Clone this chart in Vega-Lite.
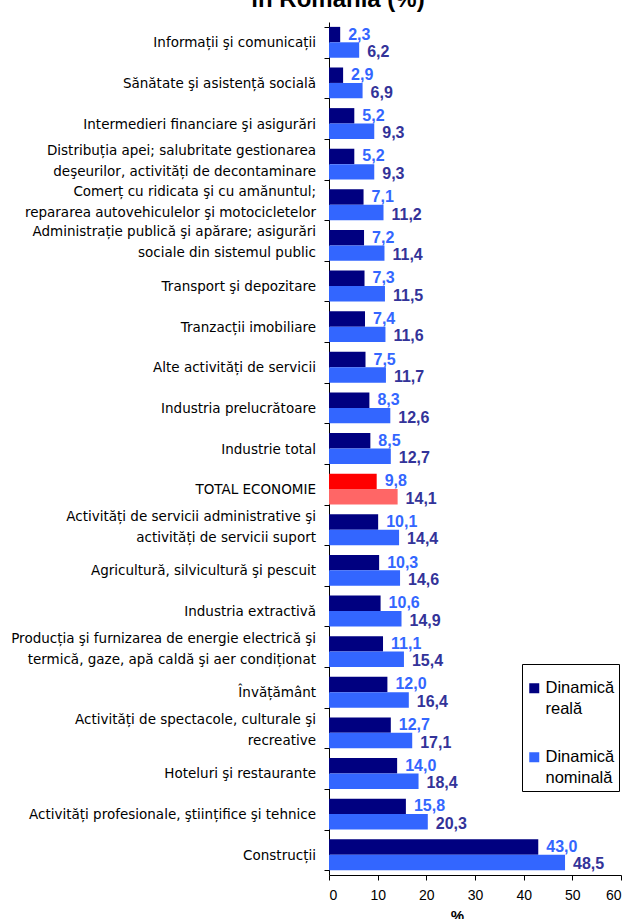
{
  "$schema": "https://vega.github.io/schema/vega-lite/v6.json",
  "width": 292,
  "height": 853,
  "autosize": {"type": "none"},
  "padding": {"left": 329, "top": 22, "right": 11, "bottom": 44},
  "background": "white",
  "config": {
    "locale": {"number": {"decimal": ",", "thousands": ".", "grouping": [3], "currency": ["", ""]}},
    "view": {"stroke": null},
    "font": "Liberation Sans"
  },
  "title": {
    "text": "în România (%)",
    "fontSize": 24,
    "fontWeight": "bold",
    "color": "black",
    "anchor": "middle",
    "dx": -137,
    "dy": 19,
    "offset": 10,
    "baseline": "alphabetic"
  },
  "data": {
    "values": [
      {"cat": "Informații şi comunicații", "Dinamică reală": 2.3, "Dinamică nominală": 6.2},
      {"cat": "Sănătate şi asistență socială", "Dinamică reală": 2.9, "Dinamică nominală": 6.9},
      {"cat": "Intermedieri financiare şi asigurări", "Dinamică reală": 5.2, "Dinamică nominală": 9.3},
      {"cat": "Distribuția apei; salubritate gestionarea|deşeurilor, activități de decontaminare", "Dinamică reală": 5.2, "Dinamică nominală": 9.3},
      {"cat": "Comerț cu ridicata şi cu amănuntul;|repararea autovehiculelor şi motocicletelor", "Dinamică reală": 7.1, "Dinamică nominală": 11.2},
      {"cat": "Administrație publică şi apărare; asigurări|sociale din sistemul public", "Dinamică reală": 7.2, "Dinamică nominală": 11.4},
      {"cat": "Transport şi depozitare", "Dinamică reală": 7.3, "Dinamică nominală": 11.5},
      {"cat": "Tranzacții imobiliare", "Dinamică reală": 7.4, "Dinamică nominală": 11.6},
      {"cat": "Alte activități de servicii", "Dinamică reală": 7.5, "Dinamică nominală": 11.7},
      {"cat": "Industria prelucrătoare", "Dinamică reală": 8.3, "Dinamică nominală": 12.6},
      {"cat": "Industrie total", "Dinamică reală": 8.5, "Dinamică nominală": 12.7},
      {"cat": "TOTAL ECONOMIE", "Dinamică reală": 9.8, "Dinamică nominală": 14.1},
      {"cat": "Activități de servicii administrative şi|activități de servicii suport", "Dinamică reală": 10.1, "Dinamică nominală": 14.4},
      {"cat": "Agricultură, silvicultură şi pescuit", "Dinamică reală": 10.3, "Dinamică nominală": 14.6},
      {"cat": "Industria extractivă", "Dinamică reală": 10.6, "Dinamică nominală": 14.9},
      {"cat": "Producția şi furnizarea de energie electrică şi|termică, gaze, apă caldă şi aer condiționat", "Dinamică reală": 11.1, "Dinamică nominală": 15.4},
      {"cat": "Învățământ", "Dinamică reală": 12.0, "Dinamică nominală": 16.4},
      {"cat": "Activități de spectacole, culturale şi|recreative", "Dinamică reală": 12.7, "Dinamică nominală": 17.1},
      {"cat": "Hoteluri şi restaurante", "Dinamică reală": 14.0, "Dinamică nominală": 18.4},
      {"cat": "Activități profesionale, ştiințifice şi tehnice", "Dinamică reală": 15.8, "Dinamică nominală": 20.3},
      {"cat": "Construcții", "Dinamică reală": 43.0, "Dinamică nominală": 48.5}
    ]
  },
  "transform": [
    {"fold": ["Dinamică reală", "Dinamică nominală"], "as": ["series", "value"]}
  ],
  "encoding": {
    "y": {
      "field": "cat",
      "type": "nominal",
      "sort": null,
      "scale": {"paddingInner": 0.24, "paddingOuter": 0.12},
      "axis": {
        "title": null,
        "labels": false,
        "tickBand": "extent",
        "tickColor": "black",
        "domainColor": "black",
        "tickSize": 5,
        "grid": false
      }
    },
    "x": {
      "field": "value",
      "type": "quantitative",
      "scale": {"domain": [0, 60]},
      "axis": {
        "title": "%",
        "titleFontSize": 15,
        "titleFontWeight": "bold",
        "titleColor": "black",
        "titleX": 128,
        "titlePadding": 6,
        "values": [0, 10, 20, 30, 40, 50, 60],
        "format": "d",
        "labelFontSize": 14,
        "labelColor": "black",
        "tickColor": "black",
        "domainColor": "black",
        "grid": false,
        "tickSize": 5,
        "labelPadding": 8
      }
    }
  },
  "layer": [
    {
      "mark": {"type": "bar"},
      "encoding": {
        "yOffset": {
          "field": "series",
          "type": "nominal",
          "sort": ["Dinamică reală", "Dinamică nominală"],
          "scale": {"paddingInner": 0}
        },
        "color": {
          "condition": [
            {"test": "datum.cat === 'TOTAL ECONOMIE' && datum.series === 'Dinamică reală'", "value": "#FF0000"},
            {"test": "datum.cat === 'TOTAL ECONOMIE'", "value": "#FF6666"}
          ],
          "field": "series",
          "type": "nominal",
          "scale": {"domain": ["Dinamică reală", "Dinamică nominală"], "range": ["#000080", "#3366FF"]},
          "legend": {
            "orient": "none",
            "legendX": 193,
            "legendY": 642,
            "title": " ",
            "titleFontSize": 8,
            "titlePadding": 4,
            "labelExpr": "split(datum.label, ' ')",
            "labelFontSize": 16.5,
            "labelColor": "black",
            "labelLimit": 200,
            "labelOffset": 3,
            "symbolType": "square",
            "symbolSize": 100,
            "symbolStrokeWidth": 0,
            "strokeColor": "black",
            "fillColor": "white",
            "padding": 4,
            "rowPadding": 31,
            "encode": {"labels": {"update": {"lineHeight": {"value": 21}}}}
          }
        }
      }
    },
    {
      "transform": [{"filter": "datum.series === 'Dinamică reală'"}],
      "mark": {"type": "text", "align": "left", "baseline": "middle", "dx": 8, "dy": 0, "fontWeight": "bold", "fontSize": 16, "color": "#3366FF"},
      "encoding": {
        "yOffset": {"field": "series", "type": "nominal", "sort": ["Dinamică reală", "Dinamică nominală"], "scale": {"paddingInner": 0}},
        "text": {"field": "value", "type": "quantitative", "format": ".1f"}
      }
    },
    {
      "transform": [{"filter": "datum.series === 'Dinamică nominală'"}],
      "mark": {"type": "text", "align": "left", "baseline": "middle", "dx": 8, "dy": 2, "fontWeight": "bold", "fontSize": 16, "color": "#333399"},
      "encoding": {
        "yOffset": {"field": "series", "type": "nominal", "sort": ["Dinamică reală", "Dinamică nominală"], "scale": {"paddingInner": 0}},
        "text": {"field": "value", "type": "quantitative", "format": ".1f"}
      }
    },
    {
      "transform": [
        {"filter": "datum.series === 'Dinamică reală' && indexof(datum.cat, '|') < 0"}
      ],
      "mark": {"type": "text", "align": "right", "baseline": "middle", "dx": -13, "dy": 1, "font": "DejaVu Sans", "fontSize": 13.5, "color": "black"},
      "encoding": {
        "x": {"datum": 0, "type": "quantitative"},
        "text": {"field": "cat", "type": "nominal"}
      }
    },
    {
      "transform": [
        {"filter": "datum.series === 'Dinamică reală' && indexof(datum.cat, '|') >= 0"}
      ],
      "mark": {"type": "text", "align": "right", "baseline": "middle", "dx": -13, "dy": -13, "lineBreak": "|", "lineHeight": 21, "font": "DejaVu Sans", "fontSize": 13.5, "color": "black"},
      "encoding": {
        "x": {"datum": 0, "type": "quantitative"},
        "text": {"field": "cat", "type": "nominal"}
      }
    }
  ]
}
